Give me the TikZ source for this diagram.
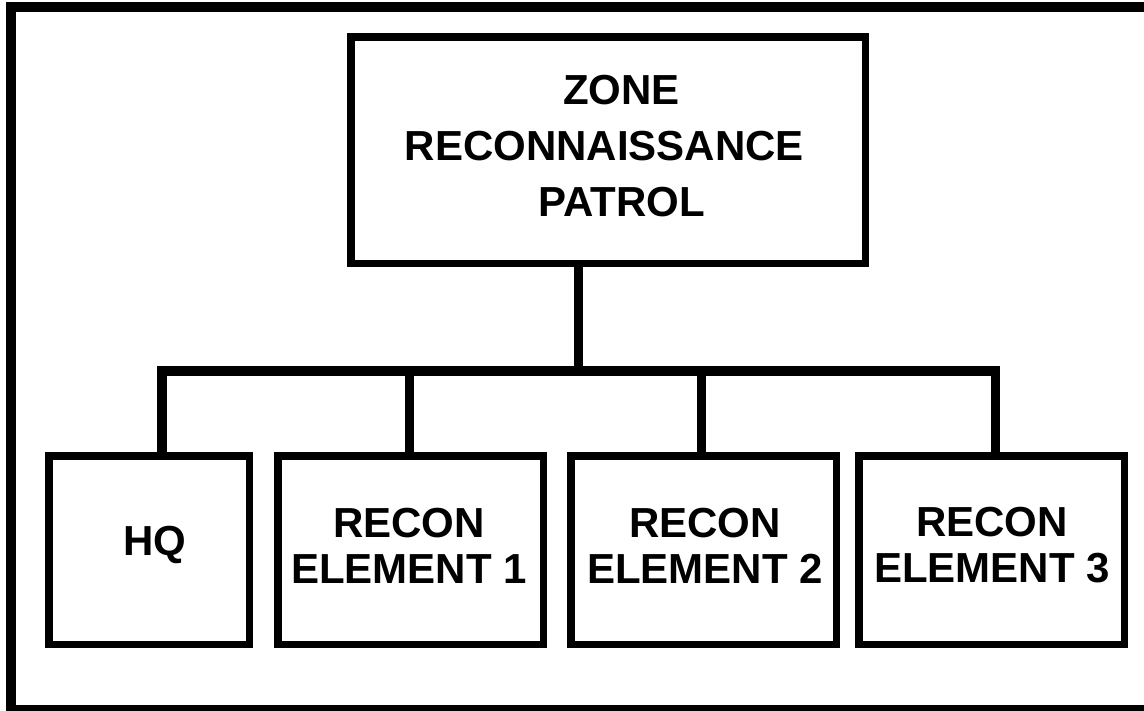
\documentclass[tikz,border=0pt]{standalone}
\usepackage{fontspec}
\setmainfont{Liberation Sans}
\begin{document}
\begin{tikzpicture}[x=1pt,y=-1pt,
  unitbox/.style={draw=black,line width=7.5pt,fill=white,inner sep=0pt,outer sep=0pt},
  unittext/.style={font=\bfseries\fontsize{42}{46}\selectfont,align=center,inner sep=0pt},
  toptext/.style={font=\bfseries\fontsize{42}{56}\selectfont,align=center,inner sep=0pt},
  conn/.style={draw=black,line width=9.5pt,line join=miter}]
\useasboundingbox (0,0) rectangle (1144,710);
\clip (0,0) rectangle (1144,710);
\fill[white] (0,0) rectangle (1144,710);
\draw[line width=10pt] (11,7) rectangle (1160,710);
% boxes
\node[unitbox,minimum width=514.5pt,minimum height=226.5pt] (top) at (608,150) {};
\node[unitbox,minimum width=200.5pt,minimum height=188.5pt] (hq) at (149,550) {};
\node[unitbox,minimum width=265.5pt,minimum height=188.5pt] (r1) at (410.5,550) {};
\node[unitbox,minimum width=265.5pt,minimum height=188.5pt] (r2) at (703.5,550) {};
\node[unitbox,minimum width=265.5pt,minimum height=188.5pt] (r3) at (991.5,550) {};
% texts
\node[toptext] (toptxt) at (604.5,146) {\hspace*{34pt}ZONE\\RECONNAISSANCE\\\hspace*{34pt}PATROL};
\node[unittext] (hqtxt) at (155,545) {HQ};
\node[unittext] (r1txt) at (409,545.5) {RECON\\ELEMENT 1};
\node[unittext] (r2txt) at (705,545.5) {RECON\\ELEMENT 2};
\node[unittext] (r3txt) at (992,545.5) {RECON\\ELEMENT 3};
% connectors
\coordinate (t1) at (578.5,371);
\coordinate (busL) at (162,371);
\coordinate (b1) at (409.5,371);
\coordinate (b2) at (701.5,371);
\coordinate (busR) at (995.5,371);
\draw[conn] (t1 |- top.south) -- (t1);
\draw[conn] (busL |- hq.north) -- (busL) -- (busR) -- (busR |- r3.north);
\draw[conn] (b1) -- (b1 |- r1.north);
\draw[conn] (b2) -- (b2 |- r2.north);
\end{tikzpicture}
\end{document}
